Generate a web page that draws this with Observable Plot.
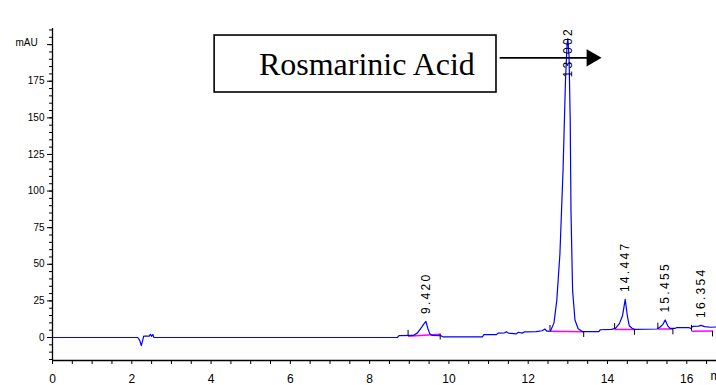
<!DOCTYPE html>
<html><head><meta charset="utf-8">
<script src="https://cdn.jsdelivr.net/npm/d3@7"></script>
<script src="https://cdn.jsdelivr.net/npm/@observablehq/plot@0.6"></script>
<style>
html,body{margin:0;padding:0;background:#fff;}
#chart svg{display:block;}
</style></head><body><div id="chart"></div>
<script>
// chromatogram trace (retention time, min ; absorbance, mAU)
const time = [0,2.15,2.2,2.24,2.28,2.3,2.44,2.47,2.5,2.53,2.56,8.7,8.74,9.1,9.2,9.3,9.36,9.42,9.47,9.52,9.58,9.8,9.85,10.85,10.88,11.2,11.24,11.4,11.45,11.5,11.7,11.75,11.85,11.9,12.2,12.35,12.42,12.47,12.56,12.65,12.72,12.8,12.88,12.94,12.98,13.0,13.03,13.06,13.08,13.12,13.18,13.26,13.38,13.78,13.82,14.1,14.2,14.3,14.38,14.447,14.5,14.55,14.62,14.68,15.25,15.32,15.4,15.455,15.52,15.58,15.7,15.75,16.05,16.1,16.15,16.3,16.354,16.45,16.6,16.75];
const signal = [0,0,-2,-5.5,-1.5,1,1,2.2,0.8,2,0,0,1.3,1.4,3,6.5,9,11,6,2.5,1.4,1.2,0.5,0.5,2,2,3,3.2,4,3,2.5,3.6,3,3.8,4,4.6,5.8,4.3,4.3,10,25,57,115,175,200,204,192,148,85,32,12,6,4,4,5.3,5.6,6.2,9.5,15,26,15,8,6.3,5.6,5.8,7,9,12,8,6.2,6.2,6.8,6.8,6.2,7.6,7.8,8.3,7.4,7,7.2];

// integrated peaks
const peakTimes = [9.42, 13.002, 14.447, 15.455, 16.354];
const peakLabels = ["9.420", "13.002", "14.447", "15.455", "16.354"];
const peakHeights = [11, 204, 26, 12, 8.3];

// integration baselines
const baseStartT = [8.97, 12.55, 14.18, 15.27, 16.12];
const baseStartV = [0.9, 4.2, 5.5, 5.8, 4.3];
const baseEndT = [9.78, 13.40, 14.68, 15.65, 16.65];
const baseEndV = [2.3, 4.0, 5.5, 5.8, 4.4];

// axes
const xDomain = [0, 16.75];
const yDomain = [-15.7, 211];
const xTicks = d3.range(0, 16.75, 0.5);
const yMajor = d3.range(0, 201, 25);
const yMinor = d3.range(-15, 211, 5);

// annotation
const annotationText = "Rosmarinic Acid";
const annotationBox = {x1: 4.09, x2: 11.2, y1: 167.3, y2: 206.2, tx: 7.93, ty: 186.4};
const annotationArrow = {x1: 11.28, x2: 13.6, y: 191};

const trace = time.map((t, i) => ({t, v: signal[i]}));
const peaks = peakTimes.map((t, i) => ({t, v: peakHeights[i], label: peakLabels[i]}));
const idx = d3.range(baseStartT.length);

const axisFont = "'Liberation Sans Narrow', 'Liberation Sans', Arial, sans-serif";

const chart = Plot.plot({
  width: 716,
  height: 385,
  marginLeft: 52,
  marginRight: 0,
  marginTop: 28,
  marginBottom: 25,
  style: {background: "#fff", fontFamily: axisFont, color: "#000"},
  x: {domain: xDomain},
  y: {domain: yDomain},
  marks: [
    Plot.ruleX([xDomain[0]], {y1: yDomain[0], y2: yDomain[1], stroke: "#000", strokeWidth: 1.3}),
    Plot.ruleY([yDomain[0]], {x1: xDomain[0], x2: xDomain[1], stroke: "#000", strokeWidth: 1.3}),
    Plot.axisY({ticks: yMinor, tickSize: 3, tickFormat: () => "", stroke: "#000"}),
    Plot.axisY({ticks: yMajor, tickSize: 5, tickPadding: 3, fontSize: 10, tickFormat: d => d === 200 ? "" : d, label: null, stroke: "#000"}),
    Plot.axisX({ticks: xTicks, tickSize: 4, tickPadding: 10, fontSize: 12, tickFormat: d => d % 2 === 0 ? d : "", label: null, stroke: "#000"}),
    Plot.text(["mAU"], {frameAnchor: "top-left", textAnchor: "start", dx: -37, dy: 10, fontSize: 10}),
    Plot.text(["min"], {frameAnchor: "bottom-right", textAnchor: "start", dx: -6, dy: 19, fontSize: 12}),
    Plot.link(idx, {x1: i => baseStartT[i], y1: i => baseStartV[i], x2: i => baseEndT[i], y2: i => baseEndV[i], stroke: "#ff00ff", strokeWidth: 1.5}),
    Plot.line(trace, {x: "t", y: "v", stroke: "#0000ff", strokeWidth: 1.2}),
    Plot.ruleX(idx, {x: i => baseStartT[i], y1: i => baseStartV[i], y2: i => baseStartV[i] + 4, stroke: "#000", strokeWidth: 1}),
    Plot.ruleX(idx, {x: i => baseEndT[i], y1: i => baseEndV[i], y2: i => baseEndV[i] - 4, stroke: "#000", strokeWidth: 1}),
    Plot.text(peaks, {x: "t", y: d => Math.min(d.v + 5, 177.5), text: "label", rotate: -90, textAnchor: "start", fontSize: 12, fontFamily: "'Liberation Sans', Arial, sans-serif", fill: "#000"}),
    Plot.rect([annotationBox], {x1: "x1", x2: "x2", y1: "y1", y2: "y2", fill: "#fff", stroke: "#000", strokeWidth: 1.6}),
    Plot.text([annotationBox], {x: "tx", y: "ty", text: () => annotationText, fontSize: 32, fontFamily: "'Liberation Serif', 'Times New Roman', serif", fill: "#000"}),
    Plot.link([annotationArrow], {x1: "x1", x2: "x2", y1: "y", y2: "y", stroke: "#000", strokeWidth: 1.7}),
    Plot.dot([annotationArrow], {x: "x2", y: "y", symbol: "triangle", r: 6.4, rotate: 90, fill: "#000", stroke: "none"})
  ]
});
// the chromatography software spaces out its rotated peak labels
d3.select(chart).selectAll("text").filter(function() {
  return /rotate\(-90/.test(this.getAttribute("transform") || "");
}).style("letter-spacing", "2.3px");
document.getElementById("chart").appendChild(chart);
</script>
</body></html>
